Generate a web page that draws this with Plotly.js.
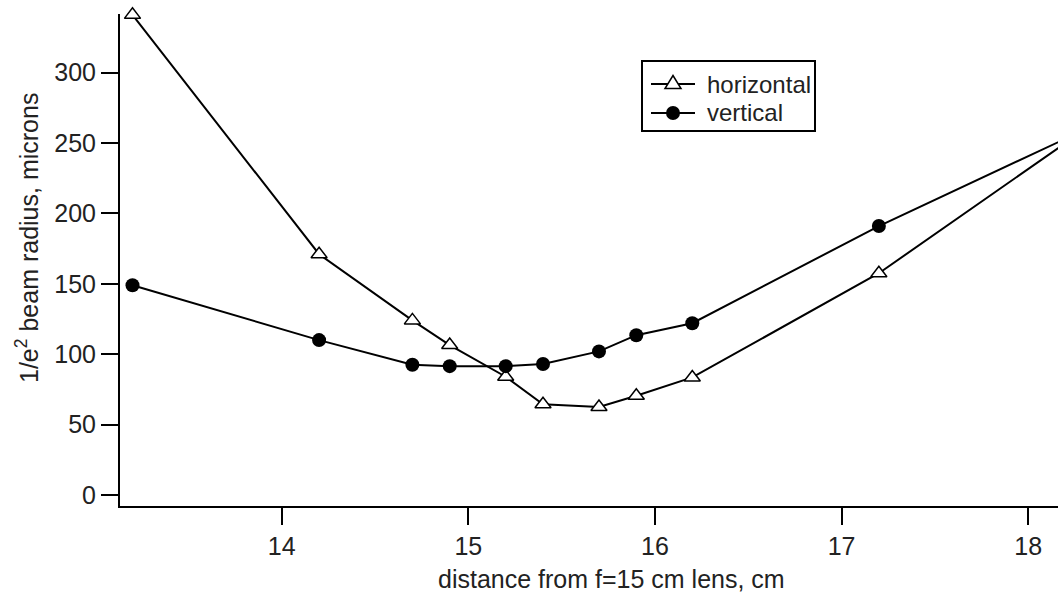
<!DOCTYPE html>
<html>
<head>
<meta charset="utf-8">
<script src="https://cdn.plot.ly/plotly-3.0.1.min.js"></script>
<style>
  html, body { margin: 0; padding: 0; background: #ffffff; }
  #chart { width: 1058px; height: 596px; }
</style>
</head>
<body>
<div id="chart"></div>
<script>
// Beam radius (1/e^2) measured along two axes at several distances behind an f=15 cm lens
const distanceCm = [13.2, 14.2, 14.7, 14.9, 15.2, 15.4, 15.7, 15.9, 16.2, 17.2, 18.2];
const horizontalRadius = [341, 171, 124, 106.5, 84, 64.5, 62.5, 70.5, 83.5, 157.5, 250];
const verticalRadius = [149, 110, 92.5, 91.5, 91.5, 93, 102, 113.5, 122, 191, 253];

const seriesNames = ['horizontal', 'vertical'];
const xTickVals = [14, 15, 16, 17, 18];
const yTickVals = [0, 50, 100, 150, 200, 250, 300];

const xTitle = 'distance from f=15 cm lens, cm';
const yTitle = '1/e<sup>2</sup> beam radius, microns';

const FONT = 'Liberation Sans, Arial, Helvetica, sans-serif';
const INK = '#000000';
const TEXT = '#222222';
const FS = 25;
const LEGEND_FS = 24;

// plot area in page pixels (margins below), used to place the legend box
const PLOT = { left: 120, right: 1058, top: 14, bottom: 506 };
const px2x = px => (px - PLOT.left) / (PLOT.right - PLOT.left);
const px2y = py => (PLOT.bottom - py) / (PLOT.bottom - PLOT.top);

const traces = [
  {
    x: distanceCm,
    y: horizontalRadius,
    name: seriesNames[0],
    type: 'scatter',
    mode: 'lines+markers',
    cliponaxis: false,
    line: { color: INK, width: 2 },
    marker: { symbol: 'triangle-up', size: 14, color: '#ffffff', line: { color: INK, width: 1.5 } }
  },
  {
    x: distanceCm,
    y: verticalRadius,
    name: seriesNames[1],
    type: 'scatter',
    mode: 'lines+markers',
    cliponaxis: false,
    line: { color: INK, width: 2 },
    marker: { symbol: 'circle', size: 14, color: INK, line: { color: INK, width: 0 } }
  }
];

const axisCommon = {
  showline: true,
  linecolor: INK,
  linewidth: 2,
  ticks: 'outside',
  ticklen: 17,
  tickwidth: 2,
  tickcolor: INK,
  showgrid: false,
  zeroline: false,
  tickfont: { family: FONT, size: FS, color: TEXT }
};

// legend box, drawn as a framed key with one row per series
const legendBox = { left: 642, right: 815, top: 61, bottom: 131 };
const legendRows = [84, 113];
const sampleLine = { x0: 651, x1: 695, mid: 673 };
const legendTextX = 705;

const shapes = [
  {
    type: 'rect', xref: 'paper', yref: 'paper', layer: 'above',
    x0: px2x(legendBox.left), x1: px2x(legendBox.right),
    y0: px2y(legendBox.bottom), y1: px2y(legendBox.top),
    fillcolor: '#ffffff', line: { color: INK, width: 2 }
  }
];
const annotations = [];

seriesNames.forEach((name, i) => {
  const rowY = px2y(legendRows[i]);
  shapes.push({
    type: 'line', xref: 'paper', yref: 'paper', layer: 'above',
    x0: px2x(sampleLine.x0), x1: px2x(sampleLine.x1), y0: rowY, y1: rowY,
    line: { color: INK, width: 2 }
  });
  const glyph = {
    xref: 'paper', yref: 'paper', layer: 'above',
    xsizemode: 'pixel', ysizemode: 'pixel',
    xanchor: px2x(sampleLine.mid), yanchor: rowY
  };
  if (traces[i].marker.symbol === 'circle') {
    shapes.push(Object.assign({}, glyph, {
      type: 'circle', x0: -7, x1: 7, y0: -7, y1: 7,
      fillcolor: INK, line: { color: INK, width: 0 }
    }));
  } else {
    shapes.push(Object.assign({}, glyph, {
      type: 'path', path: 'M-8,-4.5L8,-4.5L0,8.5Z',
      fillcolor: '#ffffff', line: { color: INK, width: 1.5 }
    }));
  }
  annotations.push({
    text: name, xref: 'paper', yref: 'paper',
    x: px2x(legendTextX), y: rowY, xanchor: 'left', yanchor: 'middle',
    showarrow: false, font: { family: FONT, size: LEGEND_FS, color: TEXT }
  });
});

annotations.push(
  {
    text: xTitle, xref: 'paper', yref: 'paper',
    x: px2x(611), y: px2y(579), xanchor: 'center', yanchor: 'middle',
    showarrow: false, font: { family: FONT, size: FS, color: TEXT }
  },
  {
    text: yTitle, xref: 'paper', yref: 'paper',
    x: px2x(27), y: px2y(238), xanchor: 'center', yanchor: 'middle',
    textangle: -90,
    showarrow: false, font: { family: FONT, size: FS, color: TEXT }
  }
);

const layout = {
  width: 1058,
  height: 596,
  margin: { l: PLOT.left, r: 1058 - PLOT.right, t: PLOT.top, b: 596 - PLOT.bottom, pad: 0 },
  paper_bgcolor: '#ffffff',
  plot_bgcolor: '#ffffff',
  font: { family: FONT, size: FS, color: TEXT },
  showlegend: false,
  xaxis: Object.assign({}, axisCommon, {
    range: [13.133, 18.160],
    tickmode: 'array',
    tickvals: xTickVals,
    ticktext: xTickVals.map(String)
  }),
  yaxis: Object.assign({}, axisCommon, {
    range: [-7.8, 341.6],
    tickmode: 'array',
    tickvals: yTickVals,
    ticktext: yTickVals.map(String)
  }),
  shapes: shapes,
  annotations: annotations
};

Plotly.newPlot('chart', traces, layout, { displayModeBar: false, staticPlot: true });
</script>
</body>
</html>
